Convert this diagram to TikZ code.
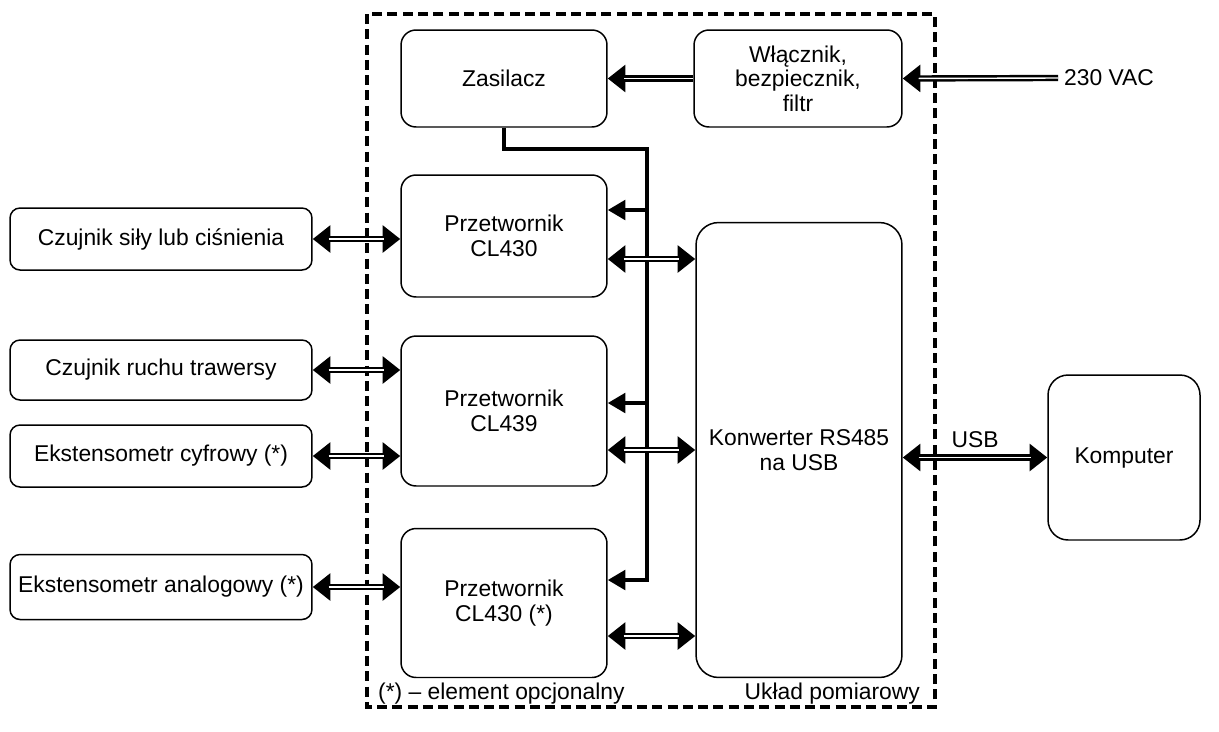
\documentclass[tikz,border=0pt]{standalone}
\usepackage{fontspec}
\setmainfont{Liberation Sans}
\usetikzlibrary{arrows.meta,calc}
\tikzset{
	blok/.style={draw, line width=0.85pt, rounded corners=0.3cm, align=center, inner sep=0pt, font=\fontsize{13}{14}\selectfont},
	szyna/.style={line width=3.6pt, {Triangle[length=10pt,width=15pt]}-{Triangle[length=10pt,width=15pt]}, postaction={draw=white, line width=0.8pt, -, shorten <=9pt, shorten >=9pt}},
	wejscie/.style={line width=3.6pt, -{Triangle[length=10pt,width=15pt]}, postaction={draw=white, line width=0.8pt, -, shorten >=9pt}},
	zasilanie/.style={line width=2.3pt, -{Triangle[length=10pt,width=11pt]}},
	ramka/.style={line width=1.8pt, dash pattern=on 5.7pt off 3pt},
	opis/.style={font=\fontsize{13}{14}\selectfont}
}
\begin{document}
\begin{tikzpicture}[x=0.02cm, y=-0.02cm]
				\useasboundingbox (0,0) rectangle (1219,731);
				
				% ramka
				\draw[ramka] (367,14) rectangle (935,707);
				\node[opis, anchor=west] (opc) at (372,694) {(*) – element opcjonalny};
				\node[opis, anchor=east] (uklad) at (926,694) {Układ pomiarowy};
				
				% top
				\node[blok, minimum width=4.12cm, minimum height=1.94cm] (zas) at (504,78.5) {Zasilacz};
				\node[blok, minimum width=4.16cm, minimum height=1.94cm] (wl) at (798,78.5) {Włącznik,\\bezpiecznik,\\filtr};
				\node[opis, anchor=west] (vac) at (1058,78) {230 VAC};
				
				\draw[wejscie] (vac.west) -- (wl.east);
				\draw[wejscie] (wl.west) -- (wl.west -| zas.east);
				
				% przetworniki
				\node[blok, minimum width=4.12cm, minimum height=2.44cm] (p1) at (504,236) {Przetwornik\\CL430};
				\node[blok, minimum width=4.12cm, minimum height=3cm] (p2) at (504,411) {Przetwornik\\CL439};
				\node[blok, minimum width=4.12cm, minimum height=2.98cm] (p3) at (504,603) {Przetwornik\\CL430 (*)};
				
				\node[blok, minimum width=4.12cm, minimum height=9.1cm, rounded corners=0.45cm] (konw) at (799,450) {Konwerter RS485\\na USB};
				\node[blok, minimum width=3.04cm, minimum height=3.3cm, rounded corners=0.4cm] (komp) at (1124,457.5) {Komputer};
				
				% czujniki
				\node[blok, minimum width=6.04cm, minimum height=1.24cm, rounded corners=0.2cm] (c1) at (161,239) {Czujnik siły lub ciśnienia};
				\node[blok, minimum width=6.04cm, minimum height=1.2cm, rounded corners=0.2cm] (c2) at (161,370) {Czujnik ruchu trawersy};
				\node[blok, minimum width=6.04cm, minimum height=1.24cm, rounded corners=0.2cm] (c3) at (161,456) {Ekstensometr cyfrowy (*)};
				\node[blok, minimum width=6.04cm, minimum height=1.3cm, rounded corners=0.2cm] (c4) at (161,587) {Ekstensometr analogowy (*)};
				
				\draw[szyna] (c1.east) -- (c1.east -| p1.west);
				\draw[szyna] (c2.east) -- (c2.east -| p2.west);
				\draw[szyna] (c3.east) -- (c3.east -| p2.west);
				\draw[szyna] (c4.east) -- (c4.east -| p3.west);
				
				% zasilanie
				\coordinate (pw) at (647,149);
				\coordinate (z1) at ($(p1.east)+(0,-26)$);
				\coordinate (z2) at ($(p2.east)+(0,-8)$);
				\coordinate (z3) at ($(p3.east)+(0,-23)$);
				
				\draw[zasilanie] (zas.south) |- (pw) |- (z3);
				\draw[zasilanie] (z1 -| pw) -- (z1);
				\draw[zasilanie] (z2 -| pw) -- (z2);
				
				% RS485
				\coordinate (s1) at ($(p1.east)+(0,23)$);
				\coordinate (s2) at ($(p2.east)+(0,39)$);
				\coordinate (s3) at ($(p3.east)+(0,33)$);
				
				\draw[szyna] (s1) -- (s1 -| konw.west);
				\draw[szyna] (s2) -- (s2 -| konw.west);
				\draw[szyna] (s3) -- (s3 -| konw.west);
				
				% USB
				\draw[szyna] (komp.west -| konw.east) -- (komp.west);
				\node[opis, above=2pt] (usb) at ($(komp.west -| konw.east)!0.5!(komp.west)$) {USB};
			\end{tikzpicture}
\end{document}
